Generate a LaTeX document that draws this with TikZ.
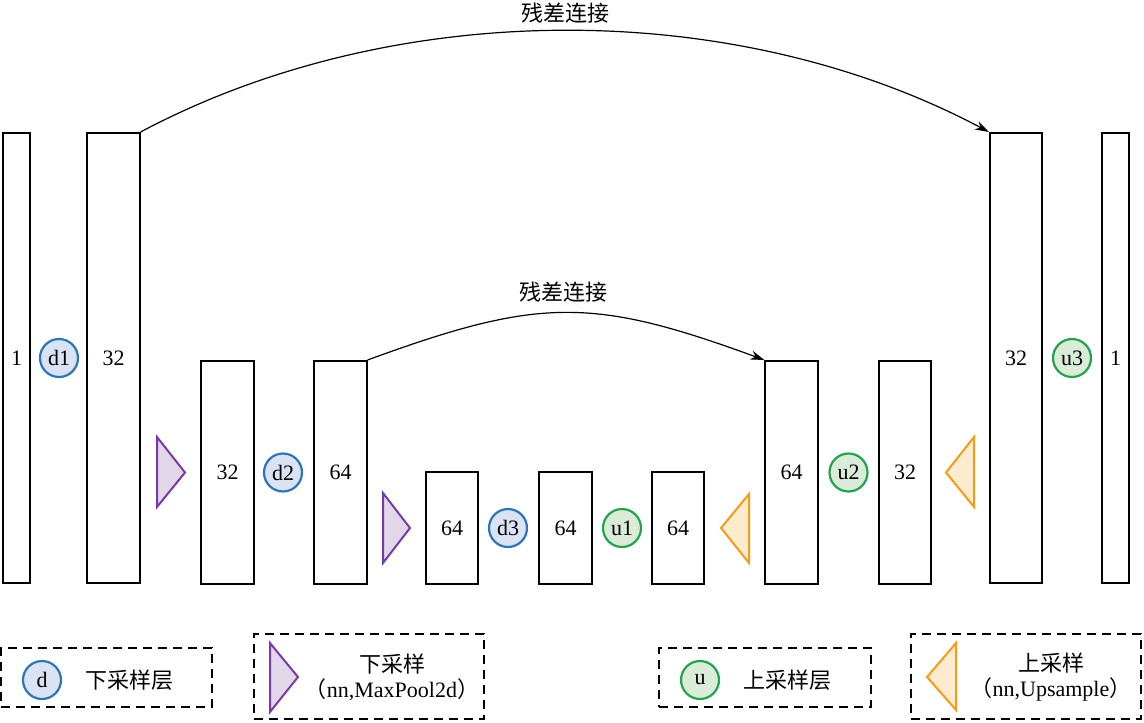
\documentclass[tikz,border=0pt]{standalone}
\usepackage{fontspec}
\setmainfont{Liberation Serif}
\newfontfamily\cjk{Noto Sans CJK SC}
\usetikzlibrary{arrows.meta}
\definecolor{dblue}{HTML}{2E75B6}
\definecolor{dfill}{HTML}{DAE3F3}
\definecolor{ugreen}{HTML}{27A050}
\definecolor{ufill}{HTML}{D9ECD8}
\definecolor{ppurple}{HTML}{7A3AA6}
\definecolor{pfill}{HTML}{E2D6E9}
\definecolor{oorange}{HTML}{F39C1A}
\definecolor{ofill}{HTML}{FDEBD0}

\begin{document}
\begin{tikzpicture}[x=1pt, y=-1pt,
  every node/.style={font=\fontsize{22}{25}\selectfont, inner sep=0pt, align=center},
  bar/.style={draw, line width=1.6pt, minimum width=52.5pt},
  slimbar/.style={bar, minimum width=27.5pt},
  tallbar/.style={minimum height=450.4pt},
  midbar/.style={minimum height=223.4pt},
  lowbar/.style={minimum height=112.4pt},
  dcirc/.style={circle, draw=dblue, fill=dfill, line width=2.2pt, minimum size=38pt},
  ucirc/.style={circle, draw=ugreen, fill=ufill, line width=2.2pt, minimum size=38pt},
  downtri/.style={draw=ppurple, fill=pfill, line width=2pt},
  uptri/.style={draw=oorange, fill=ofill, line width=2pt},
  legbox/.style={draw, line width=2.2pt, dash pattern=on 9pt off 6pt},
  skip/.style={-{Stealth[length=14pt,width=9pt]}, line width=1.2pt}]
\useasboundingbox (0,0) rectangle (1144,723);

% encoder
\node[slimbar, tallbar] (in) at (16.5,358) {1};
\node[dcirc] (d1) at (59,358) {d1};
\node[bar, tallbar] (e1) at (113.5,358) {32};
\draw[downtri] (157,437) -- (185,472.5) -- (157,507) -- cycle;
\node[bar, midbar] (e2) at (227.5,472.5) {32};
\node[dcirc] (d2) at (283,472.5) {d2};
\node[bar, midbar] (e3) at (340.5,472.5) {64};
\draw[downtri] (383,493) -- (410,528) -- (383,563) -- cycle;
\node[bar, lowbar] (e4) at (452,528) {64};
\node[dcirc] (d3) at (508,528) {d3};
\node[bar, lowbar] (e5) at (565.5,528) {64};

% decoder
\node[ucirc] (u1) at (622,528) {u1};
\node[bar, lowbar] (o1) at (678,528) {64};
\draw[uptri] (749,494) -- (721,528) -- (749,563) -- cycle;
\node[bar, midbar] (o2) at (791.5,472.5) {64};
\node[ucirc] (u2) at (848.5,472.5) {u2};
\node[bar, midbar] (o3) at (905,472.5) {32};
\draw[uptri] (974,437) -- (946,472.5) -- (974,507) -- cycle;
\node[bar, tallbar] (o4) at (1016,358) {32};
\node[ucirc] (u3) at (1072,358) {u3};
\node[slimbar, tallbar] (out) at (1115.5,358) {1};

% skip connections
\draw[skip] (e1.north east) .. controls +(254,-135) and +(-254,-135) .. (o4.north west);
\node (s1) at (565,13) {\cjk 残差连接};
\draw[skip] (e3.north east) .. controls +(172,-63) and +(-172,-63) .. (o2.north west);
\node (s2) at (563,292) {\cjk 残差连接};

% legend
\node[legbox, minimum width=211pt, minimum height=59pt] (l1) at (106.5,677.5) {};
\node[dcirc] (ld) at (42,680) {d};
\node (t1) at (129,680) {\cjk 下采样层};
\node[legbox, minimum width=230pt, minimum height=85pt] (l2) at (369,676.5) {};
\draw[downtri] (270,643) -- (298,677) -- (270,712) -- cycle;
\node (t2) at (392,677) {{\cjk 下采样}\\{\cjk （}nn,MaxPool2d{\cjk ）}};
\node[legbox, minimum width=212pt, minimum height=59pt] (l3) at (765,677.5) {};
\node[ucirc] (lu) at (700,680) {u};
\node (t3) at (787,680) {\cjk 上采样层};
\node[legbox, minimum width=230pt, minimum height=85pt] (l4) at (1026,676.5) {};
\draw[uptri] (956,643) -- (927,677) -- (956,710) -- cycle;
\node (t4) at (1051,677) {{\cjk 上采样}\\{\cjk （}nn,Upsample{\cjk ）}};
\end{tikzpicture}
\end{document}
